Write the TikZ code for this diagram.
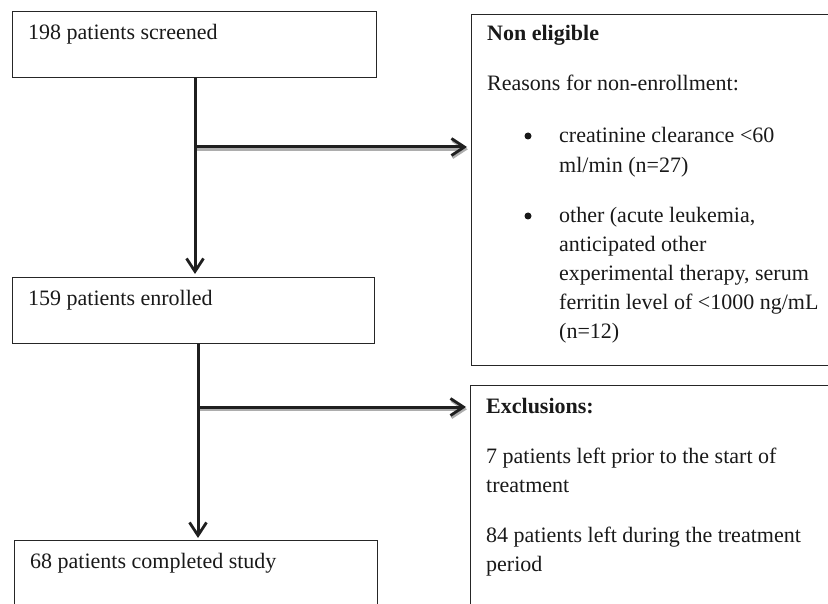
\documentclass[tikz,border=0pt]{standalone}
\usepackage{fontspec}
\setmainfont{Liberation Serif}
\usetikzlibrary{arrows.meta}
\tikzset{
  box/.style={draw=black!85, line width=1.4pt, anchor=north west, inner sep=0pt},
  txt/.style={anchor=base west, inner sep=0pt, font=\fontsize{22}{29}\selectfont, text=black!90},
  dot/.style={circle, fill=black!90, inner sep=0pt, minimum size=7pt},
  arr/.style={draw=black!88, line width=3pt, -{Straight Barb[length=13pt,width=17pt,line width=2.8pt]}},
  shadowarr/.style={draw=black!32, line width=3pt, -{Straight Barb[length=13pt,width=17pt,line width=2.8pt]}},
}
\begin{document}
\begin{tikzpicture}[x=1pt,y=-1pt]
\useasboundingbox (0,0) rectangle (828,604);
\clip (0,0) rectangle (828,604);
% boxes
\node[box, minimum width=364pt, minimum height=66pt] (b1) at (12,11) {};
\node[box, minimum width=362pt, minimum height=66pt] (b2) at (12,277) {};
\node[box, minimum width=363pt, minimum height=90pt] (b3) at (14,540) {};
\node[box, minimum width=380pt, minimum height=351pt] (ne) at (471,14) {};
\node[box, minimum width=380pt, minimum height=240pt] (ex) at (470,385) {};
% junctions
\coordinate (j1) at (195,147);
\coordinate (j2) at (198,407);
% horizontal arrows with shadow
\draw[shadowarr, shorten >=4pt] ([shift={(1,2.2)}]j1) -- ([shift={(1,2.2)}]ne.west |- j1);
\draw[arr, shorten >=4pt] (j1) -- (ne.west |- j1);
\draw[shadowarr, shorten >=4pt] ([shift={(1,2.2)}]j2) -- ([shift={(1,2.2)}]ex.west |- j2);
\draw[arr, shorten >=4pt] (j2) -- (ex.west |- j2);
% vertical arrows
\draw[arr, shorten >=3pt] (b1.south -| j1) -- (b2.north -| j1);
\draw[arr, shorten >=2pt] (b2.south -| j2) -- (b3.north -| j2);
% left texts
\node[txt] (t1) at (28,40) {198 patients screened};
\node[txt] (t2) at (28,306) {159 patients enrolled};
\node[txt] (t3) at (30,568) {68 patients completed study};
% non eligible box
\node[txt, font=\fontsize{22}{29}\selectfont\bfseries] (n1) at (487,41) {Non eligible};
\node[txt] (n2) at (487,91) {Reasons for non-enrollment:};
\node[dot] (bu1) at (528,136) {};
\node[txt] (n3) at (559,143) {creatinine clearance <60};
\node[txt] (n4) at (559,173) {ml/min (n=27)};
\node[dot] (bu2) at (528,216) {};
\node[txt] (n5) at (559,223) {other (acute leukemia,};
\node[txt] (n6) at (559,252) {anticipated other};
\node[txt] (n7) at (559,281) {experimental therapy, serum};
\node[txt] (n8) at (559,310) {ferritin level of <1000 ng/mL};
\node[txt] (n9) at (559,338) {(n=12)};
% exclusions box
\node[txt, font=\fontsize{22}{29}\selectfont\bfseries] (e1) at (486,413) {Exclusions:};
\node[txt] (e2) at (486,463) {7 patients left prior to the start of};
\node[txt] (e3) at (486,492) {treatment};
\node[txt] (e4) at (486,542) {84 patients left during the treatment};
\node[txt] (e5) at (486,571) {period};
\end{tikzpicture}
\end{document}
